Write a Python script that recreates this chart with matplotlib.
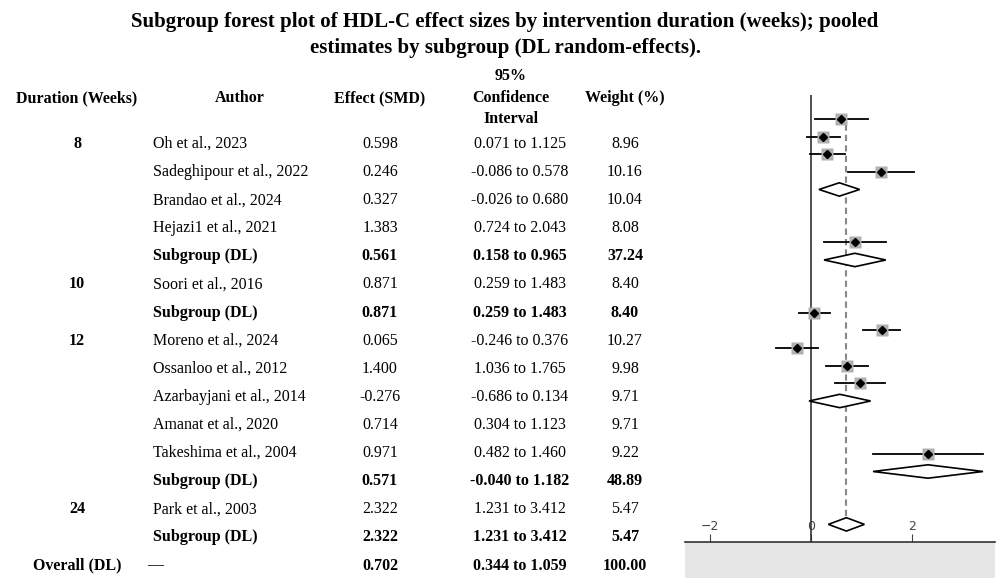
import matplotlib
matplotlib.use("Agg")
import matplotlib.pyplot as plt
from matplotlib.patches import Rectangle, Polygon

# table data
durations = ["8", "", "", "", "", "10", "", "12", "", "", "", "", "", "24", "", "Overall (DL)"]
authors = ["Oh et al., 2023", "Sadeghipour et al., 2022", "Brandao et al., 2024", "Hejazi1 et al., 2021",
           "Subgroup (DL)", "Soori et al., 2016", "Subgroup (DL)", "Moreno et al., 2024",
           "Ossanloo et al., 2012", "Azarbayjani et al., 2014", "Amanat et al., 2020",
           "Takeshima et al., 2004", "Subgroup (DL)", "Park et al., 2003", "Subgroup (DL)", "\u2014"]
effects = [0.598, 0.246, 0.327, 1.383, 0.561, 0.871, 0.871, 0.065, 1.400, -0.276, 0.714, 0.971,
           0.571, 2.322, 2.322, 0.702]
lower = [0.071, -0.086, -0.026, 0.724, 0.158, 0.259, 0.259, -0.246, 1.036, -0.686, 0.304, 0.482,
         -0.040, 1.231, 1.231, 0.344]
upper = [1.125, 0.578, 0.680, 2.043, 0.965, 1.483, 1.483, 0.376, 1.765, 0.134, 1.123, 1.460,
         1.182, 3.412, 3.412, 1.059]
weights = [8.96, 10.16, 10.04, 8.08, 37.24, 8.40, 8.40, 10.27, 9.98, 9.71, 9.71, 9.22, 48.89,
           5.47, 5.47, 100.00]
pooled = [False, False, False, False, True, False, True, False, False, False, False, False, True,
          False, True, True]
# plot row slots (the plot lists rows with blank gaps between subgroups)
plot_rows = [0, 1, 2, 3, 4, 7, 8, 11, 12, 13, 14, 15, 16, 19, 20, 23]

W, H = 1000, 584
fig = plt.figure(figsize=(10, 5.84), dpi=100)
serif = "Liberation Serif"

def ft(x, y, s, **kw):
    fig.text(x / W, 1 - y / H, s, family=serif, va="center", **kw)

ft(505, 22, "Subgroup forest plot of HDL-C effect sizes by intervention duration (weeks); pooled",
   ha="center", fontsize=15, weight="bold")
ft(505, 48, "estimates by subgroup (DL random-effects).", ha="center", fontsize=15, weight="bold")

hdr = dict(fontsize=11.5, weight="bold", ha="center")
ft(77, 98, "Duration (Weeks)", **hdr)
ft(240, 98, "Author", **hdr)
ft(380, 98, "Effect (SMD)", **hdr)
ft(511, 76, "95%", **hdr)
ft(511, 98, "Confidence", **hdr)
ft(511, 119, "Interval", **hdr)
ft(625, 98, "Weight (%)", **hdr)

for i in range(len(authors)):
    y = 144 + 28.1 * i
    b = "bold" if pooled[i] else "normal"
    ft(77, y, durations[i], fontsize=11.5, weight="bold", ha="center")
    if i == len(authors) - 1:
        ft(155, y, authors[i], fontsize=11.5, ha="center")
    else:
        ft(153, y, authors[i], fontsize=11.5, weight=b, ha="left")
    ft(380, y, f"{effects[i]:.3f}", fontsize=11.5, weight=b, ha="center")
    ft(520, y, f"{lower[i]:.3f} to {upper[i]:.3f}", fontsize=11.5, weight=b, ha="center")
    ft(625, y, f"{weights[i]:.2f}", fontsize=11.5, weight=b, ha="center")

# grey strip under the axis
bg = fig.add_axes([685 / W, 1 - 578 / H, 310 / W, 36 / H], zorder=0)
bg.set_facecolor("#e6e6e6")
bg.axis("off")
bg.add_patch(Rectangle((0, 0), 1, 1, transform=bg.transAxes, color="#e6e6e6"))

# forest plot
ax = fig.add_axes([685 / W, 1 - 542 / H, 310 / W, (542 - 95) / H], zorder=2)
ax.set_xlim(-2.5, 3.65)
ax.set_ylim(24.0, -1.36)
ax.axvline(0, color="#333333", lw=1.2)
ax.plot([effects[-1]] * 2, [-0.3, 23], color="#888888", ls=(0, (3, 2)), lw=1.5)
for i, r in enumerate(plot_rows):
    if pooled[i]:
        dh = 0.38
        ax.add_patch(Polygon([[lower[i], r], [effects[i], r - dh], [upper[i], r], [effects[i], r + dh]],
                             closed=True, fc="white", ec="black", lw=1.2, zorder=3))
    else:
        ax.plot([lower[i], upper[i]], [r, r], color="black", lw=1.3, zorder=2)
        ax.plot(effects[i], r, marker="s", ms=9, color="#b0b0b0", mec="none", zorder=3)
        ax.plot(effects[i], r, marker="D", ms=4.5, color="black", zorder=4)
for s in ["top", "right", "left"]:
    ax.spines[s].set_visible(False)
ax.spines["bottom"].set_color("#333333")
ax.spines["bottom"].set_linewidth(1.2)
ax.set_yticks([])
ax.set_xticks([-2, 0, 2])
ax.tick_params(axis="x", direction="in", length=6, colors="#444444", labelsize=9, pad=-16)
ax.set_facecolor("none")

fig.savefig("out.png", dpi=100)
